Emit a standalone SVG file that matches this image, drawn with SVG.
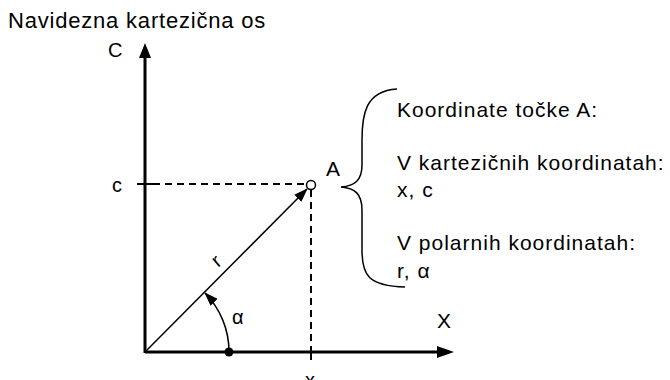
<svg xmlns="http://www.w3.org/2000/svg" width="670" height="380" viewBox="0 0 670 380">
<style>
text{font-family:"Liberation Sans",Arial,sans-serif;fill:#000}
.t{font-size:21px;letter-spacing:1px}
.l{font-size:20px}
.ax{stroke:#000;stroke-width:3;fill:none}
.dash{stroke:#000;stroke-width:2;stroke-dasharray:7,5;fill:none}
.ln{stroke:#000;stroke-width:1.5;fill:none}
</style>
<defs>
<marker id="ah" markerWidth="14" markerHeight="10" refX="13" refY="5" orient="auto" markerUnits="userSpaceOnUse">
<path d="M0,0 L14,5 L0,10 Z" fill="#000"/>
</marker>
</defs>
<text x="8" y="28" font-size="22" letter-spacing="0.8">Navidezna kartezična os</text>
<g id="connectors">
<line class="ax" x1="145" y1="353" x2="145" y2="56"/>
<path d="M139,58 L145,43 L151,58 Z" fill="#000"/>
<line class="ax" x1="145" y1="352" x2="440" y2="352"/>
<path d="M437,346 L454,352 L437,358 Z" fill="#000"/>
<line x1="137" y1="184" x2="153" y2="184" stroke="#000" stroke-width="2"/>
<line class="dash" x1="153" y1="184" x2="307" y2="184"/>
<line class="dash" x1="311" y1="190" x2="311" y2="347"/>
<line x1="311" y1="347" x2="311" y2="360" stroke="#000" stroke-width="2"/>
<line class="ln" x1="145" y1="352" x2="307" y2="189" marker-end="url(#ah)"/>
<path class="ln" d="M229,352 A84,84 0 0 0 205,293" marker-end="url(#ah)"/>
<circle cx="229" cy="352" r="4.5" fill="#000"/>
<path class="ln" d="M397,89 C365,91 362,115 362,140 L362,165 C362,180 355,186 341,187 C355,188 362,194 362,210 L362,250 C362,275 368,286 405,287"/>
</g>
<g id="pointA">
<circle cx="311" cy="185" r="4.5" fill="#fff" stroke="#000" stroke-width="1.5"/>
<text x="326" y="176" font-size="21">A</text>
</g>
<g id="labels">
<text x="108" y="57" class="l">C</text>
<text x="112" y="192" class="l">c</text>
<text x="0" y="0" class="l" transform="translate(218,268) rotate(-40)">r</text>
<text x="232" y="324" class="l">α</text>
<text x="437" y="328" font-size="21">X</text>
<text x="305" y="387" class="l">x</text>
</g>
<g id="info">
<text x="397" y="117" class="t">Koordinate točke A:</text>
<text x="397" y="170" class="t">V kartezičnih koordinatah:</text>
<text x="397" y="197" class="t">x, c</text>
<text x="397" y="250" class="t">V polarnih koordinatah:</text>
<text x="397" y="278" class="t">r, α</text>
</g>
</svg>
